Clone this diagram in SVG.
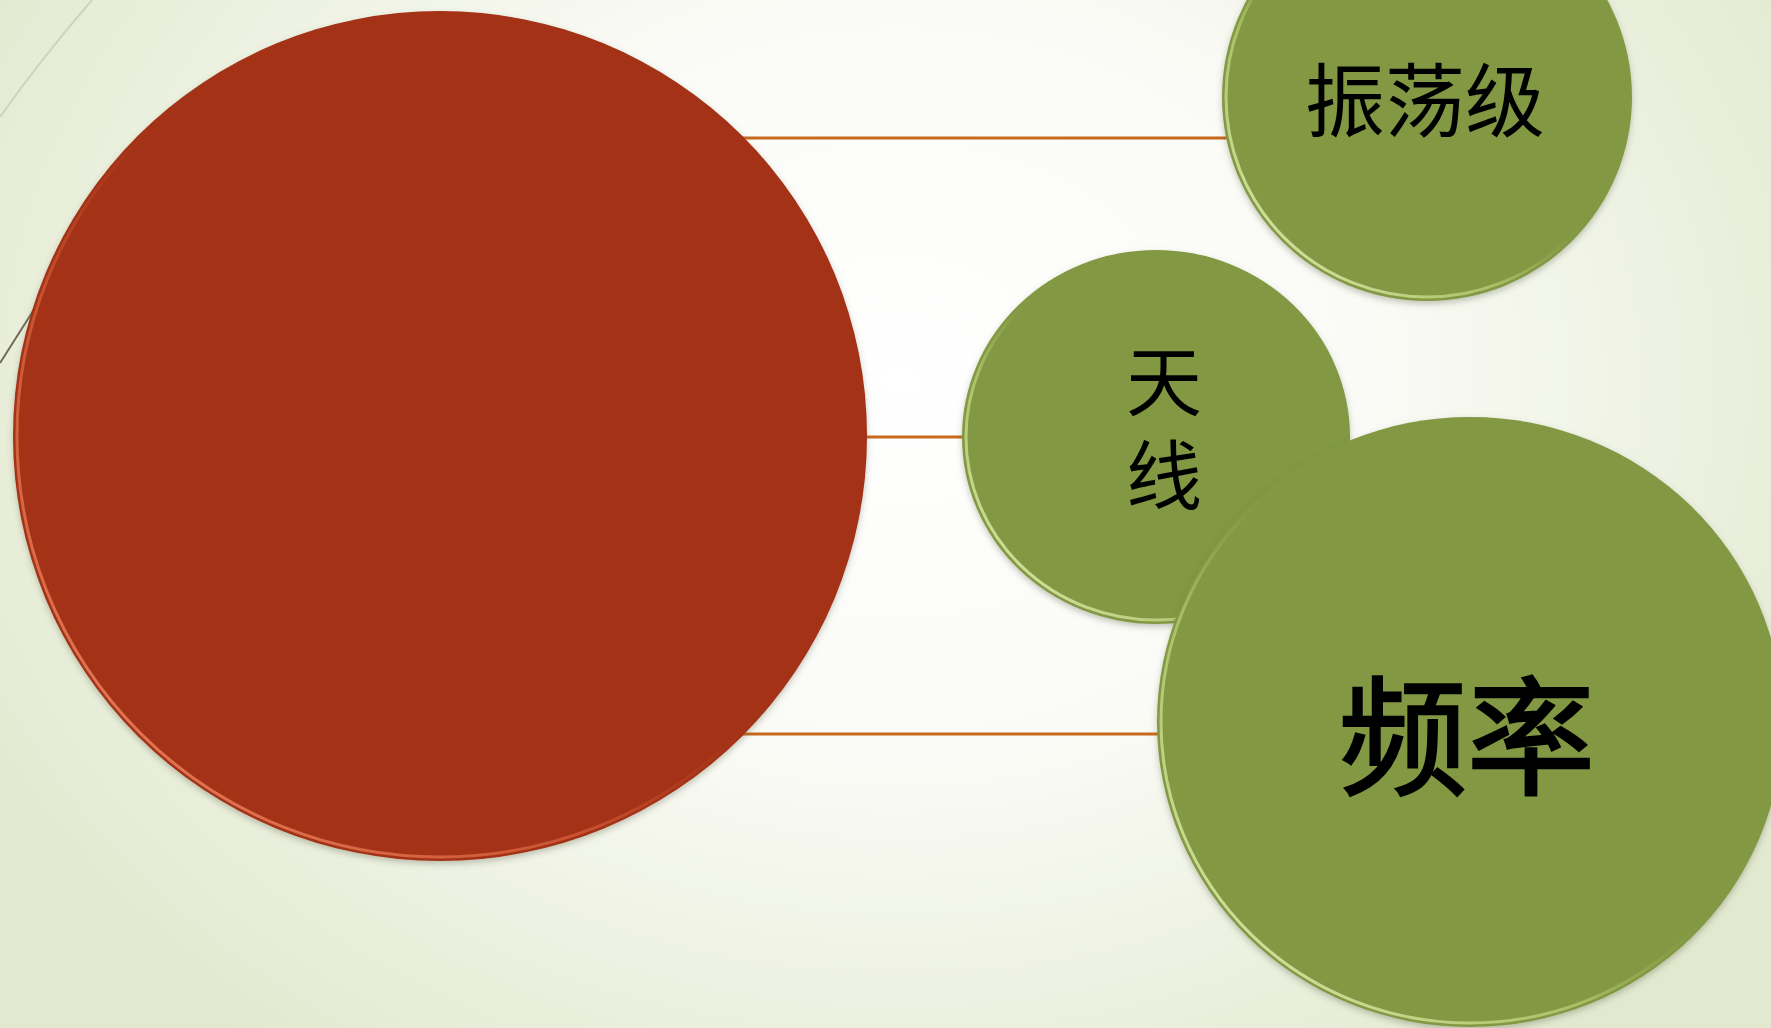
<svg xmlns="http://www.w3.org/2000/svg" width="1771" height="1028" viewBox="0 0 1771 1028">
  <defs>
    <radialGradient id="bg" cx="900" cy="380" r="1050" gradientUnits="userSpaceOnUse" gradientTransform="translate(900 380) scale(1 0.8) translate(-900 -380)">
      <stop offset="0" stop-color="#ffffff"/>
      <stop offset="0.45" stop-color="#fafbf6"/>
      <stop offset="1" stop-color="#e2e9cf"/>
    </radialGradient>
    <linearGradient id="redEdge" x1="0" y1="1" x2="1" y2="0">
      <stop offset="0" stop-color="#f3906c"/>
      <stop offset="0.35" stop-color="#d9603c" stop-opacity="0.7"/>
      <stop offset="0.55" stop-color="#a33013" stop-opacity="0"/>
      <stop offset="0.85" stop-color="#a33013" stop-opacity="0"/>
      <stop offset="1" stop-color="#e0714e" stop-opacity="0.6"/>
    </linearGradient>
    <linearGradient id="greenEdge" x1="0" y1="1" x2="1" y2="0">
      <stop offset="0" stop-color="#eef6c0"/>
      <stop offset="0.35" stop-color="#bcd078" stop-opacity="0.7"/>
      <stop offset="0.55" stop-color="#829843" stop-opacity="0"/>
      <stop offset="0.85" stop-color="#829843" stop-opacity="0"/>
      <stop offset="1" stop-color="#c9da8a" stop-opacity="0.6"/>
    </linearGradient>
    <filter id="shadow" x="-10%" y="-10%" width="120%" height="120%">
      <feDropShadow dx="0" dy="3" stdDeviation="3" flood-color="#5a6040" flood-opacity="0.35"/>
    </filter>
  </defs>
  <style>
    .red { fill: #a33013; }
    .green { fill: #829843; }
    .redRim { fill: none; stroke: url(#redEdge); stroke-width: 3; }
    .greenRim { fill: none; stroke: url(#greenEdge); stroke-width: 3; }
    .conn { stroke: #c8691c; stroke-width: 3; fill: none; }
    .lbl { font-family: "Noto Sans CJK SC", "Noto Sans", sans-serif; fill: #000000; text-anchor: middle; dominant-baseline: central; }
  </style>

  <rect x="0" y="0" width="1771" height="1028" fill="url(#bg)"/>
  <path d="M92 0 Q40 60 0 117" stroke="#cfd4c0" stroke-width="2" fill="none"/>
  <path d="M40 300 L0 363" stroke="#6e6a58" stroke-width="2" fill="none"/>

  <g id="connectors">
    <line class="conn" x1="700" y1="138" x2="1230" y2="138"/>
    <line class="conn" x1="860" y1="437" x2="966" y2="437"/>
    <line class="conn" x1="700" y1="734" x2="1162" y2="734"/>
  </g>

  <g id="node-main">
    <ellipse class="red" cx="440" cy="436" rx="427" ry="425" filter="url(#shadow)"/>
    <ellipse class="redRim" cx="440" cy="436" rx="423" ry="421"/>
  </g>

  <g id="node-zhendangji">
    <ellipse class="green" cx="1427" cy="97" rx="205" ry="204" filter="url(#shadow)"/>
    <ellipse class="greenRim" cx="1427" cy="97" rx="201" ry="200"/>
    <text class="lbl" x="1425" y="95" font-size="80">振荡级</text>
  </g>

  <g id="node-tianxian">
    <ellipse class="green" cx="1156" cy="437" rx="194" ry="187" filter="url(#shadow)"/>
    <ellipse class="greenRim" cx="1156" cy="437" rx="190" ry="183"/>
    <text class="lbl" x="1164" y="437" font-size="76" writing-mode="vertical-rl" letter-spacing="18">天线</text>
  </g>

  <g id="node-pinlv">
    <ellipse class="green" cx="1470" cy="722" rx="313" ry="305" filter="url(#shadow)"/>
    <ellipse class="greenRim" cx="1470" cy="722" rx="309" ry="301"/>
    <text class="lbl" x="1467" y="729" font-size="128" stroke="#000000" stroke-width="2.5">频率</text>
  </g>
</svg>
